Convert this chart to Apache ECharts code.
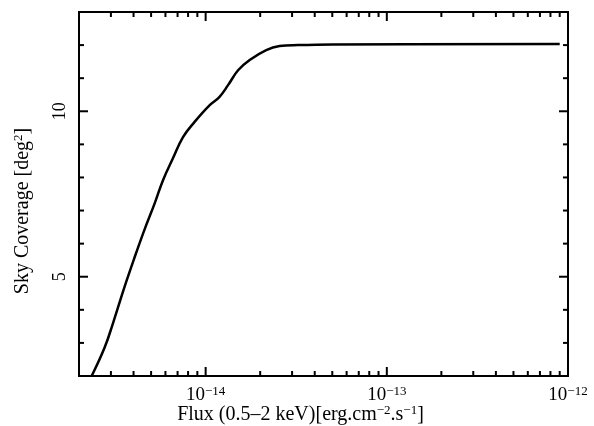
<!DOCTYPE html>
<html>
<head>
<meta charset="utf-8">
<script src="https://cdn.jsdelivr.net/npm/echarts@6/dist/echarts.min.js"></script>
<style>
  html, body, #main { width: 100%; height: 100%; margin: 0; background: #fff; }
</style>
</head>
<body>
<div id="main"></div>
<script>
// sky coverage curve
var fluxValues = [2.35e-15, 2.77e-15, 3.07e-15, 3.56e-15, 4.05e-15, 4.61e-15, 5.22e-15,
  5.81e-15, 6.59e-15, 7.50e-15, 8.69e-15, 1.05e-14, 1.19e-14, 1.33e-14, 1.51e-14,
  1.75e-14, 2.16e-14, 2.56e-14, 3.24e-14, 5.0e-14, 9.0e-13];
var coverageValues = [2.0, 2.86, 3.57, 4.68, 5.58, 6.44, 7.2,
  7.91, 8.57, 9.22, 9.68, 10.18, 10.43, 10.79, 11.24,
  11.55, 11.85, 11.97, 12.0, 12.02, 12.03];

// axis ranges and ticks
var xMin = 2e-15, xMax = 1e-12;
var yMin = 2, yMax = 13;
var xMajorTicks = [1e-14, 1e-13];
var xMinorTicks = [3e-15, 4e-15, 5e-15, 6e-15, 7e-15, 8e-15, 9e-15,
  2e-14, 3e-14, 4e-14, 5e-14, 6e-14, 7e-14, 8e-14, 9e-14,
  2e-13, 3e-13, 4e-13, 5e-13, 6e-13, 7e-13, 8e-13, 9e-13];
var yMajorTicks = [5, 10];
var yMinorTicks = [3, 4, 6, 7, 8, 9, 11, 12];
var xLabelValues = [1e-14, 1e-13, 1e-12];

var chart = echarts.init(document.getElementById('main'));

var font = 'Liberation Serif';
var supStyle = { fontSize: 13, fontFamily: font, color: '#000', padding: [0, 0, 8, 0] };

function xTickData() {
  return xMajorTicks.map(function (v) { return [v, yMin, 1]; })
    .concat(xMinorTicks.map(function (v) { return [v, yMin, 0]; }));
}
function yTickData() {
  return yMajorTicks.map(function (v) { return [xMin, v, 1]; })
    .concat(yMinorTicks.map(function (v) { return [xMin, v, 0]; }));
}

var tickStyle = { stroke: '#000', lineWidth: 2 };

function renderXTick(params, api) {
  var v = api.value(0);
  var len = api.value(2) ? 9 : 5;
  var b = api.coord([v, yMin]);
  var t = api.coord([v, yMax]);
  return {
    type: 'group',
    children: [
      { type: 'line', shape: { x1: b[0], y1: b[1], x2: b[0], y2: b[1] - len }, style: tickStyle },
      { type: 'line', shape: { x1: t[0], y1: t[1], x2: t[0], y2: t[1] + len }, style: tickStyle }
    ]
  };
}

function renderYTick(params, api) {
  var v = api.value(1);
  var len = api.value(2) ? 9 : 5;
  var l = api.coord([xMin, v]);
  var r = api.coord([xMax, v]);
  return {
    type: 'group',
    children: [
      { type: 'line', shape: { x1: l[0], y1: l[1], x2: l[0] + len, y2: l[1] }, style: tickStyle },
      { type: 'line', shape: { x1: r[0], y1: r[1], x2: r[0] - len, y2: r[1] }, style: tickStyle }
    ]
  };
}

chart.setOption({
  backgroundColor: '#fff',
  animation: false,
  grid: {
    left: 79, right: 26, top: 12, bottom: 50,
    outerBoundsMode: 'none',
    show: true, borderColor: '#000', borderWidth: 2
  },
  xAxis: {
    type: 'log',
    logBase: 10,
    min: xMin,
    max: xMax,
    axisLine: { show: false },
    axisTick: { show: false },
    splitLine: { show: false },
    axisLabel: {
      margin: 9,
      fontSize: 19,
      fontFamily: font,
      color: '#000',
      showMinLabel: true,
      showMaxLabel: true,
      formatter: function (v) {
        for (var i = 0; i < xLabelValues.length; i++) {
          if (Math.abs(v / xLabelValues[i] - 1) < 1e-6) {
            var e = Math.round(Math.log10(v));
            return '10{s|\u2212' + Math.abs(e) + '}';
          }
        }
        return '';
      },
      rich: {
        s: supStyle
      }
    },
    name: 'Flux (0.5\u20132 keV)[erg.cm{s|\u22122}.s{s|\u22121}]',
    nameLocation: 'middle',
    nameGap: 28,
    nameMoveOverlap: false,
    nameTextStyle: {
      fontSize: 20, fontFamily: font, color: '#000',
      padding: [0, 46, 0, 0],
      rich: { s: supStyle }
    }
  },
  yAxis: {
    type: 'value',
    min: yMin,
    max: yMax,
    interval: 1,
    axisLine: { show: false },
    axisTick: { show: false },
    splitLine: { show: false },
    axisLabel: {
      rotate: 90,
      margin: 10,
      fontSize: 18,
      fontFamily: font,
      color: '#000',
      formatter: function (v) { return yMajorTicks.indexOf(v) >= 0 ? String(v) : ''; }
    },
    name: 'Sky Coverage [deg{s|2}]',
    nameLocation: 'middle',
    nameRotate: 90,
    nameGap: 46,
    nameMoveOverlap: false,
    nameTextStyle: {
      fontSize: 20, fontFamily: font, color: '#000',
      padding: [0, 34, 0, 0],
      rich: { s: supStyle }
    }
  },
  series: [
    {
      type: 'line',
      data: fluxValues.map(function (f, i) { return [f, coverageValues[i]]; }),
      showSymbol: false,
      smooth: 0.4,
      lineStyle: { color: '#000', width: 2.5 },
      z: 3
    },
    {
      type: 'custom',
      renderItem: renderXTick,
      data: xTickData(),
      encode: { x: 0, y: 1 },
      silent: true,
      z: 4
    },
    {
      type: 'custom',
      renderItem: renderYTick,
      data: yTickData(),
      encode: { x: 0, y: 1 },
      silent: true,
      z: 4
    }
  ]
});
</script>
</body>
</html>
